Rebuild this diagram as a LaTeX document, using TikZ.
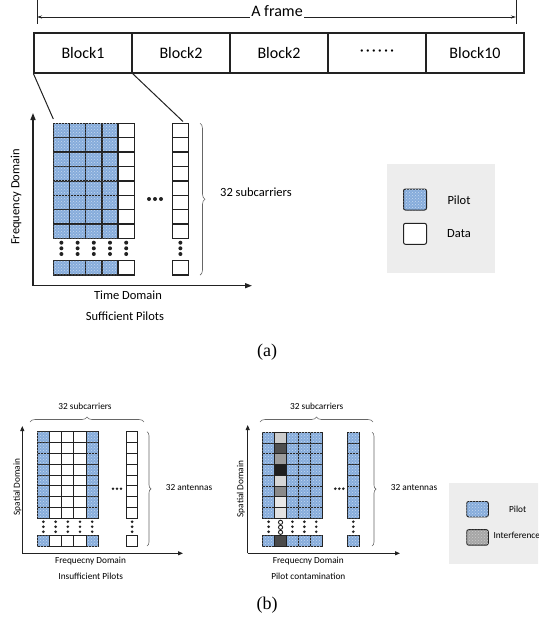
\documentclass[tikz,border=0pt]{standalone}
\usepackage{fontspec}
\setmainfont{Carlito}
\newfontfamily\capfont{Liberation Serif}
\usetikzlibrary{arrows.meta,patterns,decorations.pathreplacing}
\definecolor{pilotblue}{HTML}{86ACDB}
\definecolor{pilotdot}{HTML}{C6D8EF}
\definecolor{legendbg}{HTML}{EDEDED}
\definecolor{ink}{HTML}{222222}
\begin{document}
\begin{tikzpicture}[x=1pt,y=-1pt,
  pilot/.style={fill=pilotblue, postaction={pattern=crosshatch dots, pattern color=pilotdot}},
  intf/.style={fill=black!35, postaction={pattern=crosshatch dots, pattern color=black!20}},
  cellA/.style={draw=ink, line width=1.5pt},
  cellB/.style={draw=ink, line width=1pt},
  block/.style={draw=ink, line width=1.2pt, minimum width=98pt, minimum height=40pt, inner sep=0pt, font=\fontsize{16}{19}\selectfont},
  axis/.style={draw=ink, line width=1.3pt, -{Triangle[length=7pt,width=5pt]}},
  axisB/.style={draw=ink, line width=1pt, -{Triangle[length=5pt,width=4pt]}},
  brace/.style={draw=black!60, line width=0.6pt, decorate, decoration={brace, amplitude=#1}},
  lblA/.style={font=\fontsize{12.5}{15}\selectfont, inner sep=0pt},
  lblB/.style={font=\fontsize{9.3}{11}\selectfont, inner sep=0pt},
  legsq/.style={draw=ink, line width=1pt, rounded corners=2pt, minimum width=23pt, minimum height=21pt, inner sep=0pt},
  legsqB/.style={draw=ink, line width=0.9pt, rounded corners=2pt, minimum width=21.6pt, minimum height=15.5pt, inner sep=0pt},
  dotf/.style={fill=ink},
]
\useasboundingbox (0,0) rectangle (538,626);
\clip (0,0) rectangle (538,626);

% ---------- frame ----------
\coordinate (fl) at (37,17);
\coordinate (fr) at (516,17);
\coordinate (fltop) at (37,0);
\coordinate (flbot) at (37,24.3);
\coordinate (frtop) at (516,0);
\coordinate (frbot) at (516,24.3);
\draw[ink, line width=0.8pt] (fltop) -- (flbot);
\draw[ink, line width=0.8pt] (frtop) -- (frbot);
\draw[ink, line width=0.8pt, {Stealth[length=5pt,width=3pt]}-{Stealth[length=5pt,width=3pt]}] (fl) -- (fr);
\node[fill=white, inner xsep=0.8pt, inner ysep=2pt, anchor=base, font=\fontsize{16}{19}\selectfont] (ft) at (277,16.5) {A frame};

\foreach \n/\t [count=\k from 0] in {b1/Block1, b2/Block2, b3/Block2, b4/{·\kern2pt·\kern2pt·\kern2pt·\kern2pt·\kern2pt·}, b5/Block10}
  \node[block] (\n) at ({83+98*\k},53) {\t};

% ---------- grid (a) ----------
\foreach \i in {0,...,3}{
  \foreach \j in {0,...,7}
    \draw[cellA,pilot] ({53.3+16.2*\i},{123.3+14.4*\j}) rectangle ++(16.2,14.4);
  \draw[cellA,pilot] ({53.3+16.2*\i},260.7) rectangle ++(16.2,14.4);
}
\foreach \j in {0,...,7}{
  \draw[cellA,fill=white] (118.1,{123.3+14.4*\j}) rectangle ++(16.2,14.4);
  \draw[cellA,fill=white] (172.3,{123.3+14.4*\j}) rectangle ++(16.2,14.4);
}
\draw[cellA,fill=white] (118.1,260.7) rectangle ++(16.2,14.4);
\draw[cellA,fill=white] (172.3,260.7) rectangle ++(16.2,14.4);
\foreach \cx in {61.4,77.6,93.8,110,126.2,180.4}
  \foreach \cy in {242.7,248.3,254}
    \fill[dotf] (\cx,\cy) circle[radius=2pt];
\foreach \cx in {149,155,161}
  \fill[dotf] (\cx,199) circle[radius=2pt];

\coordinate (gAtl) at (53.3,119);
\coordinate (gAtr) at (183,121.5);
\draw[ink, line width=1pt] (b1.south west) -- (gAtl);
\draw[ink, line width=1pt] (b1.south east) -- (gAtr);

\coordinate (oA) at (33,285.7);
\coordinate (yA) at (33,113);
\coordinate (xA) at (252,285.7);
\draw[axis] (oA) -- (yA);
\draw[axis] (oA) -- (xA);
\draw[brace=5pt] (200,123.3) -- (200,275.1);
\node[lblA, anchor=west] (subA) at (220,192) {32 subcarriers};
\node[lblA, rotate=90] (fdA) at (16,197) {Frequency Domain};
\node[lblA] (tdA) at (128,295) {Time Domain};
\node[lblA] (spA) at (125,316) {Sufficient Pilots};
\node[font=\capfont\fontsize{18}{21}\selectfont, inner sep=0pt] (capA) at (267,352) {(a)};

% legend (a)
\fill[legendbg] (387.3,164) rectangle (495,273.3);
\node[legsq,pilot] (lgp) at (415,199.5) {};
\node[legsq,fill=white] (lgd) at (415,233.8) {};
\node[lblA] (lgpt) at (459,200) {Pilot};
\node[lblA] (lgdt) at (459,234) {Data};

% ---------- (b) left: insufficient pilots ----------
\foreach \j in {0,...,7}{
  \foreach \i in {0,4}
    \draw[cellB,pilot] ({37.3+12.2*\i},{431.7+10.83*\j}) rectangle ++(12.2,10.83);
  \foreach \i in {1,2,3}
    \draw[cellB,fill=white] ({37.3+12.2*\i},{431.7+10.83*\j}) rectangle ++(12.2,10.83);
  \draw[cellB,fill=white] (126.3,{431.7+10.83*\j}) rectangle ++(11.6,10.83);
}
\foreach \i in {0,4}
  \draw[cellB,pilot] ({37.3+12.2*\i},535) rectangle ++(12.2,11);
\foreach \i in {1,2,3}
  \draw[cellB,fill=white] ({37.3+12.2*\i},535) rectangle ++(12.2,11);
\draw[cellB,fill=white] (126.3,535) rectangle ++(11.6,11);
\foreach \cx in {43.4,55.6,67.8,80,92.2,132.1}
  \foreach \cy in {521.7,526.7,531.7}
    \fill[dotf] (\cx,\cy) circle[radius=1.45pt];
\foreach \cx in {113,117,121}
  \fill[dotf] (\cx,488.7) circle[radius=1.45pt];

\coordinate (oB) at (22.3,553.3);
\coordinate (yB) at (22.3,426);
\coordinate (xB) at (183,553.3);
\draw[axisB] (oB) -- (yB);
\draw[axisB] (oB) -- (xB);
\draw[brace=5pt] (30,422) -- (144,422);
\draw[brace=4pt] (147,431.7) -- (147,546);
\node[lblB] (subB1) at (85,406.7) {32 subcarriers};
\node[lblB, anchor=west] (antB1) at (165.7,488) {32 antennas};
\node[lblB, rotate=90] (sdB1) at (17.3,487) {Spatial Domain};
\node[lblB] (fqB1) at (90.5,560.7) {Frequecny Domain};
\node[lblB] (ipB1) at (90.8,576) {Insufficient Pilots};

% ---------- (b) right: pilot contamination ----------
\foreach \j in {0,...,7}{
  \foreach \i in {0,2,3,4}
    \draw[cellB,pilot] ({262.7+11.9*\i},{432.3+10.75*\j}) rectangle ++(11.9,10.75);
  \draw[cellB,pilot] (347.3,{432.3+10.75*\j}) rectangle ++(12,10.75);
}
\foreach \j/\s in {0/20,1/69,2/39,3/88,4/16,5/46,6/9,7/11}
  \draw[cellB,fill=black!\s] (274.6,{432.3+10.75*\j}) rectangle ++(11.9,10.75);
\foreach \i in {0,2,3,4}
  \draw[cellB,pilot] ({262.7+11.9*\i},535) rectangle ++(11.9,11);
\draw[cellB,fill=black!71] (274.6,535) rectangle ++(11.9,11);
\draw[cellB,pilot] (347.3,535) rectangle ++(12,11);
\foreach \cx in {268.65,292.45,304.35,316.25,353.3}
  \foreach \cy in {521.7,526.7,531.7}
    \fill[dotf] (\cx,\cy) circle[radius=1.45pt];
\foreach \cy in {522.3,527.3,532.3}
  \draw[ink, line width=0.9pt] (280.55,\cy) circle[radius=2.1pt];
\foreach \cx in {335.3,339.3,343.3}
  \fill[dotf] (\cx,488.7) circle[radius=1.45pt];

\coordinate (oC) at (247.7,553.3);
\coordinate (yC) at (247.7,425);
\coordinate (xC) at (400,553.3);
\draw[axisB] (oC) -- (yC);
\draw[axisB] (oC) -- (xC);
\draw[brace=5pt] (260,422) -- (373,422);
\draw[brace=4pt] (372,432.3) -- (372,546);
\node[lblB] (subB2) at (316.7,406.7) {32 subcarriers};
\node[lblB, anchor=west] (antB2) at (390.7,488) {32 antennas};
\node[lblB, rotate=90] (sdB2) at (241,489) {Spatial Domain};
\node[lblB] (fqB2) at (308.3,560.7) {Frequecny Domain};
\node[lblB] (pcB2) at (308.3,576) {Pilot contamination};

% legend (b)
\fill[legendbg] (449,482.7) rectangle (540,564.3);
\node[legsqB,pilot] (lgbp) at (477.5,509.2) {};
\node[legsqB,intf] (lgbi) at (477.5,537.4) {};
\node[lblB] (lgbpt) at (517.7,509.3) {Pilot};
\node[lblB, anchor=west] (lgbit) at (493.3,535.7) {Interference};

\node[font=\capfont\fontsize{18}{21}\selectfont, inner sep=0pt] (capB) at (267,605) {(b)};
\end{tikzpicture}
\end{document}
